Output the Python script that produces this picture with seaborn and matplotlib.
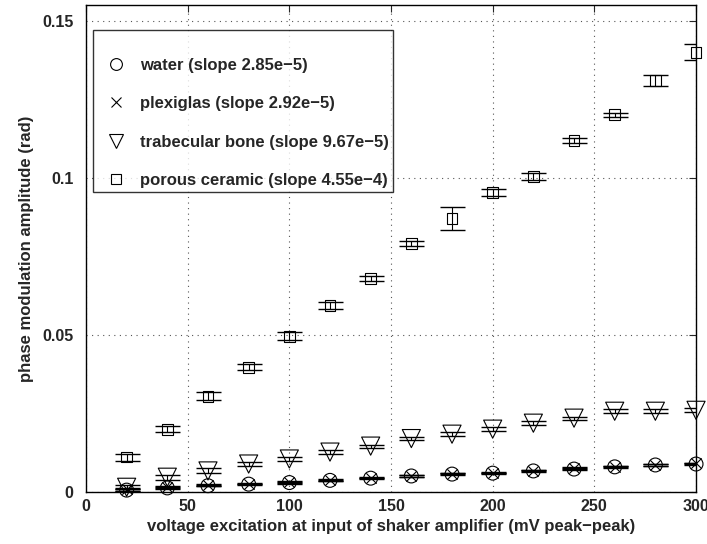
import numpy as np
import pandas as pd
import matplotlib
matplotlib.use('Agg')
import matplotlib.pyplot as plt
from matplotlib.lines import Line2D
import seaborn as sns

sns.set_style('white')
plt.rcParams['font.family'] = ['Liberation Sans', 'DejaVu Sans']
plt.rcParams['font.weight'] = 'bold'

# voltage excitation (mV peak-peak)
voltage = [20, 40, 60, 80, 100, 120, 140, 160, 180, 200, 220, 240, 260, 280, 300]

water = [0.0006, 0.0013, 0.0020, 0.0025, 0.0030, 0.0037, 0.0044, 0.0051,
         0.0057, 0.0060, 0.0067, 0.0073, 0.0080, 0.0086, 0.0089]
water_err = [0.0003, 0.0003, 0.0002, 0.0002, 0.0003, 0.0002, 0.0002, 0.0002,
             0.0003, 0.0002, 0.0003, 0.0002, 0.0003, 0.0002, 0.0003]

plexiglas = [0.0008, 0.0015, 0.0021, 0.0026, 0.0031, 0.0038, 0.0045, 0.0052,
             0.0058, 0.0062, 0.0068, 0.0075, 0.0081, 0.0087, 0.0091]
plexiglas_err = [0.0004, 0.0003, 0.0003, 0.0002, 0.0003, 0.0003, 0.0002, 0.0003,
                 0.0002, 0.0003, 0.0002, 0.0003, 0.0002, 0.0003, 0.0002]

bone = [0.0015, 0.0047, 0.0067, 0.0089, 0.0105, 0.0127, 0.0146, 0.0170,
        0.0184, 0.0200, 0.0219, 0.0235, 0.0257, 0.0257, 0.0260]
bone_err = [0.0006, 0.0008, 0.0008, 0.0006, 0.0007, 0.0006, 0.0005, 0.0004,
            0.0006, 0.0006, 0.0006, 0.0005, 0.0007, 0.0006, 0.0006]

ceramic = [0.0111, 0.0200, 0.0305, 0.0397, 0.0496, 0.0594, 0.0680, 0.0791,
           0.0870, 0.0954, 0.1004, 0.1119, 0.1201, 0.1310, 0.1400]
ceramic_err = [0.0011, 0.0009, 0.0012, 0.0010, 0.0013, 0.0011, 0.0009, 0.0009,
               0.0037, 0.0011, 0.0012, 0.0007, 0.0006, 0.0017, 0.0025]

labels = ['water (slope 2.85e\u22125)', 'plexiglas (slope 2.92e\u22125)',
          'trabecular bone (slope 9.67e\u22125)', 'porous ceramic (slope 4.55e\u22124)']
markers = ['o', 'x', 'v', 's']
sizes = [100, 55, 170, 60]
legend_sizes = [8.5, 6.5, 10, 7.5]

series = [(water, water_err), (plexiglas, plexiglas_err),
          (bone, bone_err), (ceramic, ceramic_err)]

frames = []
for lab, (vals, errs) in zip(labels, series):
    frames.append(pd.DataFrame({'voltage': voltage, 'amp': vals,
                                'err': errs, 'material': lab}))
df = pd.concat(frames, ignore_index=True)

fig = plt.figure(figsize=(7.07, 5.44), dpi=100)
ax = fig.add_axes([0.1216, 0.0956, 0.8629, 0.8952])

for lab, mk, sz in zip(labels, markers, sizes):
    sub = df[df['material'] == lab]
    ax.errorbar(sub['voltage'], sub['amp'], yerr=sub['err'], fmt='none',
                ecolor='black', elinewidth=0.8, capsize=9, capthick=1.0,
                zorder=2)
    if mk == 'x':
        sns.scatterplot(data=sub, x='voltage', y='amp', marker=mk, s=sz,
                        color='black', linewidth=0.8, ax=ax, zorder=3,
                        clip_on=False)
    else:
        sns.scatterplot(data=sub, x='voltage', y='amp', marker=mk, s=sz,
                        facecolor='none', edgecolor='black', linewidth=0.8,
                        ax=ax, zorder=3, clip_on=False)

ax.set_xlim(0, 300)
ax.set_ylim(0, 0.155)
ax.set_xticks([0, 50, 100, 150, 200, 250, 300])
ax.set_yticks([0, 0.05, 0.1, 0.15])
ax.set_yticklabels(['0', '0.05', '0.1', '0.15'])
ax.tick_params(direction='in', length=5, top=True, right=True,
               labelsize=11.5, width=0.8)
ax.tick_params(axis='y', pad=9)
ax.tick_params(axis='x', pad=5)
for t in ax.get_xticklabels() + ax.get_yticklabels():
    t.set_fontweight('bold')
ax.grid(True, linestyle=(0, (1, 4)), color='#555555', linewidth=0.8)
for sp in ax.spines.values():
    sp.set_color('black')
    sp.set_linewidth(1.0)

ax.set_xlabel('voltage excitation at input of shaker amplifier (mV peak\u2212peak)',
              fontsize=12, fontweight='bold', labelpad=4)
ax.set_ylabel('phase modulation amplitude (rad)', fontsize=12,
              fontweight='bold', labelpad=6)

handles = []
for mk, lab, ms in zip(markers, labels, legend_sizes):
    handles.append(Line2D([], [], linestyle='none', marker=mk, markersize=ms,
                          markerfacecolor='none', markeredgecolor='black',
                          markeredgewidth=0.8, label=lab))
# a tiny blank title gives the extra space above the first entry
leg = ax.legend(handles=handles, loc='upper left', bbox_to_anchor=(0.0115, 0.9487),
                fontsize=12, labelspacing=1.41, borderpad=0.2,
                handletextpad=0.25, handlelength=2.4, fancybox=False,
                frameon=True, borderaxespad=0, title=' ', title_fontsize=1)
leg.get_frame().set_edgecolor('black')
leg.get_frame().set_linewidth(1.0)
for t in leg.get_texts():
    t.set_fontweight('bold')

fig.savefig('out.png', dpi=100)
plt.close(fig)
